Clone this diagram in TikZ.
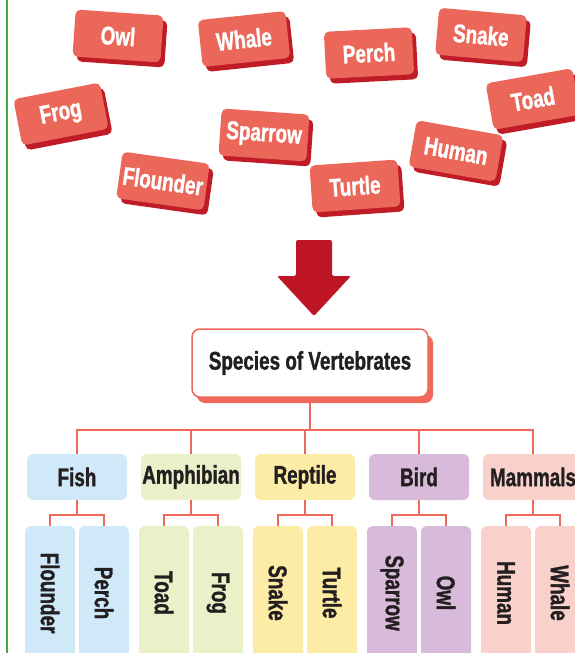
\documentclass[tikz,border=0pt]{standalone}
\usepackage{fontspec}
\newfontfamily\condsans[FakeStretch=0.74, BoldFeatures={FakeBold=1.2}]{Liberation Sans}
\usetikzlibrary{shadows}
\definecolor{cardred}{RGB}{235,103,89}
\definecolor{cardshade}{RGB}{192,28,40}
\definecolor{arrowred}{RGB}{190,22,36}
\definecolor{linkred}{RGB}{239,104,90}
\definecolor{edgegreen}{RGB}{64,172,64}
\definecolor{inkblack}{RGB}{35,31,32}
\definecolor{fishblue}{RGB}{207,233,249}
\definecolor{amphgreen}{RGB}{234,240,199}
\definecolor{reptyellow}{RGB}{253,236,165}
\definecolor{birdpurple}{RGB}{216,187,218}
\definecolor{mammpink}{RGB}{249,209,203}
\tikzset{
  card/.style={fill=cardred, rounded corners=5pt, minimum width=88pt,
    minimum height=47pt, text=white, inner sep=0pt,
    font=\condsans\bfseries\fontsize{25.5}{25.5}\selectfont,
    general shadow={fill=cardshade, shadow xshift=4pt, shadow yshift=-5pt}},
  titlebox/.style={draw=linkred, line width=1.5pt, fill=white, rounded corners=8pt,
    minimum width=236pt, minimum height=68pt, text=inkblack,
    font=\condsans\bfseries\fontsize{25.5}{25.5}\selectfont,
    general shadow={fill=linkred, shadow xshift=5pt, shadow yshift=-6pt}},
  group/.style={rounded corners=6pt, minimum width=100pt, minimum height=46pt,
    inner sep=0pt, text=inkblack, font=\condsans\bfseries\fontsize{25.5}{25.5}\selectfont},
  leaf/.style={rotate=-90, rounded corners=6pt, minimum width=134pt,
    minimum height=50pt, inner sep=0pt, text=inkblack,
    font=\condsans\bfseries\fontsize{25.5}{25.5}\selectfont},
  link/.style={draw=linkred, line width=2pt}
}
\begin{document}
\begin{tikzpicture}[x=1pt, y=-1pt]
  \useasboundingbox (0,0) rectangle (575,653);
  \draw[edgegreen, line width=2pt] (7,0) -- (7,653);

  % === scattered species cards ===
  \node[card, rotate=-4] (owlcard) at (118,36) {Owl};
  \node[card, rotate=6] (whalecard) at (244,39) {Whale};
  \node[card, rotate=3] (perchcard) at (369,53) {Perch};
  \node[card, rotate=-5] (snakecard) at (481,35) {Snake};
  \node[card, rotate=11] (frogcard) at (61,114) {Frog};
  \node[card, rotate=10] (toadcard) at (533,99) {Toad};
  \node[card, rotate=-4] (sparrowcard) at (264,135) {Sparrow};
  \node[card, rotate=-10] (humancard) at (456,151) {Human};
  \node[card, rotate=-8] (floundercard) at (163,181) {Flounder};
  \node[card, rotate=4] (turtlecard) at (355,186) {Turtle};

  % big arrow
  \fill[arrowred, rounded corners=2pt] (296,240) -- (332,240) -- (332,276)
    -- (351,276) -- (314,316) -- (277,276) -- (296,276) -- cycle;

  % === classification tree ===
  \node[titlebox] (title) at (310,363) {Species of Vertebrates};

  \node[group, fill=fishblue] (fish) at (77,477) {Fish};
  \node[group, fill=amphgreen] (amph) at (191,477) {Amphibian};
  \node[group, fill=reptyellow] (rept) at (305,477) {Reptile};
  \node[group, fill=birdpurple] (bird) at (419,477) {Bird};
  \node[group, fill=mammpink] (mamm) at (533,477) {Mammals};

  \node[leaf, fill=fishblue] (flounder) at (50,593) {Flounder};
  \node[leaf, fill=fishblue] (perch) at (104,593) {Perch};
  \node[leaf, fill=amphgreen] (toad) at (164,593) {Toad};
  \node[leaf, fill=amphgreen] (frog) at (218,593) {Frog};
  \node[leaf, fill=reptyellow] (snake) at (278,593) {Snake};
  \node[leaf, fill=reptyellow] (turtle) at (332,593) {Turtle};
  \node[leaf, fill=birdpurple] (sparrow) at (392,593) {Sparrow};
  \node[leaf, fill=birdpurple] (owl) at (446,593) {Owl};
  \node[leaf, fill=mammpink] (human) at (506,593) {Human};
  \node[leaf, fill=mammpink] (whale) at (560,593) {Whale};

  \coordinate (bus) at (310,430);
  \draw[link] (fish.north) |- (bus) -| (mamm.north);
  \draw[link] (title.south) -- (title.south |- bus);
  \foreach \g in {amph,rept,bird}
    \draw[link] (\g.north) -- (\g.north |- bus);

  \foreach \g/\a/\b in {fish/flounder/perch, amph/toad/frog, rept/snake/turtle,
                        bird/sparrow/owl, mamm/human/whale} {
    \draw[link] (\g.south) -- ++(0,15) coordinate (\g fork);
    \draw[link] (\a.west) |- (\g fork) -| (\b.west);
  }
\end{tikzpicture}
\end{document}
